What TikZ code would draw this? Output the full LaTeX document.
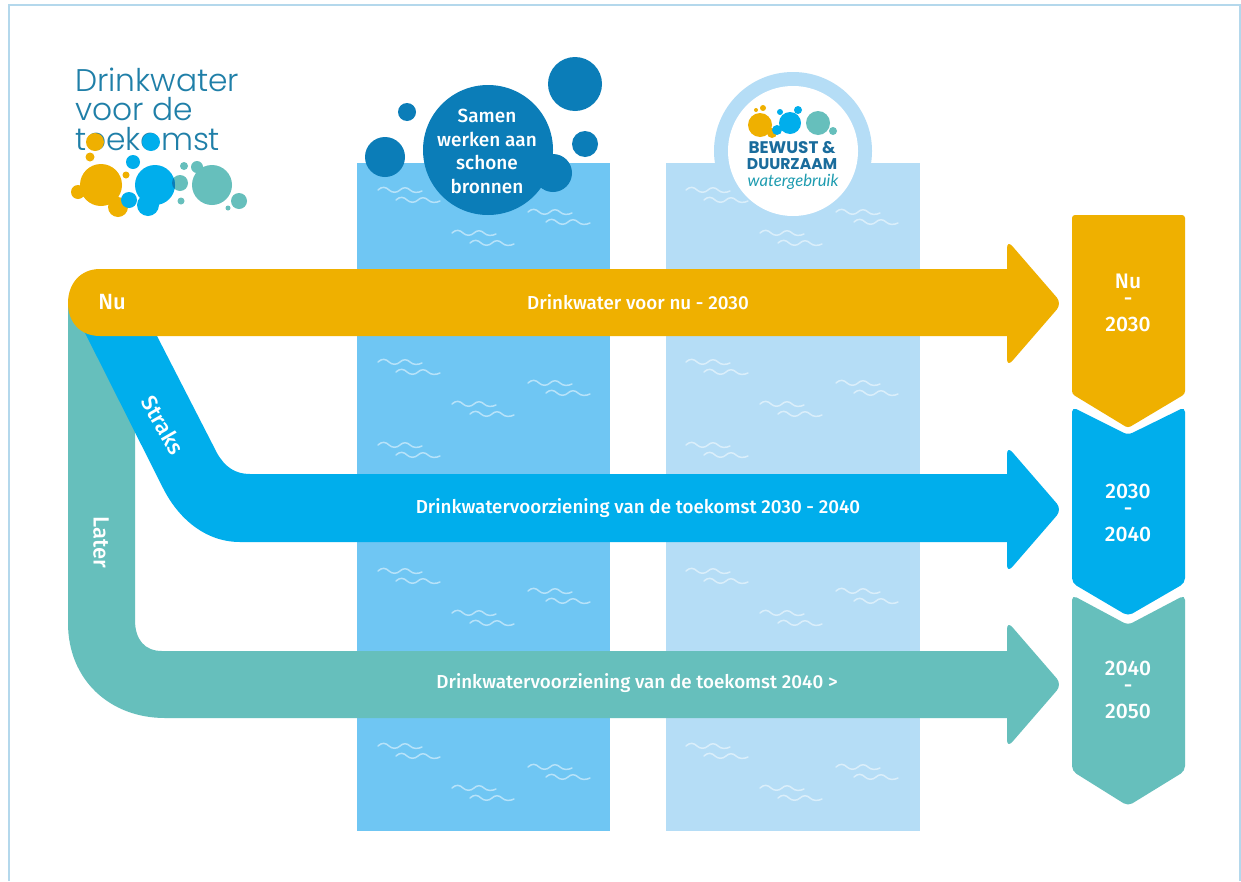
\documentclass[tikz,border=0pt]{standalone}
\usepackage{fontspec}
\setmainfont{Fira Sans}[BoldFont={Fira Sans Medium}]
\newfontfamily\logofont{Poppins Light}
\newfontfamily\heavyfont{Poppins}
\newfontfamily\cursivefont{Lato}
\definecolor{yel}{HTML}{EFB000}
\definecolor{blu}{HTML}{00AEEC}
\definecolor{tea}{HTML}{66BFBC}
\definecolor{rectA}{HTML}{6FC6F3}
\definecolor{rectB}{HTML}{B5DDF6}
\definecolor{deep}{HTML}{0B7DB8}
\definecolor{logotxt}{HTML}{1F7FA8}
\definecolor{navy}{HTML}{1A6C9C}
\definecolor{frame}{HTML}{B4D8EC}
\definecolor{curs}{HTML}{1E9CB0}
\tikzset{
  lab/.style={text=white,font=\fontsize{18.8}{22}\selectfont\bfseries,inner sep=0pt},
  biglab/.style={text=white,font=\fontsize{22}{24}\selectfont\bfseries,inner sep=0pt},
  blab/.style={text=white,font=\fontsize{21}{24}\selectfont\bfseries,inner sep=0pt},
  bub/.style={text=white,font=\fontsize{19}{22}\selectfont\bfseries,inner sep=0pt},
  logoline/.style={anchor=base west,text=logotxt,font=\logofont\fontsize{31.3}{34}\selectfont,inner sep=0pt},
  wavepair/.pic={
    \draw[white,opacity=.5,line width=1.5pt,line cap=round]
      (0,0) .. controls (4,-4) and (8,-3) .. (11,0) .. controls (14,3) and (19,3) .. (22,0)
      .. controls (25,-3) and (29,-3) .. (32,0) .. controls (35,3) and (40,3) .. (44,1);
    \draw[white,opacity=.5,line width=1.5pt,line cap=round]
      (18,10) .. controls (22,6) and (26,7) .. (29,10) .. controls (32,13) and (37,13) .. (40,10)
      .. controls (43,7) and (47,7) .. (50,10) .. controls (53,13) and (58,13) .. (62,11);
  }
}
\begin{document}
\begin{tikzpicture}[x=1pt,y=-1pt]
\path[use as bounding box,fill=white] (0,0) rectangle (1241,881);
\draw[frame,line width=2pt] (9,881) -- (9,5) -- (1240,5) -- (1240,881);
% water columns
\fill[rectB] (793,151) circle (79);
\fill[rectA] (357,163) rectangle (610,831);
\fill[rectB] (666,163) rectangle (920,831);
\fill[white] (793,151) circle (65);
% waves
\foreach \dx in {0,308}{
  \foreach \p/\q in {378/190,528/212,452/233,378/362,528/383,452/404,378/445,378/571,528/591,452/613,378/746,528/767,452/788}{
    \pic at ({\p+\dx},\q) {wavepair};
  }
}
% left bubbles
\fill[deep] (488,150) circle (65);
\fill[deep] (575,84) circle (27);
\fill[deep] (407,112) circle (9);
\fill[deep] (385,157) circle (20);
\fill[deep] (585,144) circle (13);
\fill[deep] (553,173) circle (19);
\node[bub] (s1) at (487,116) {Samen};
\node[bub] (s2) at (487,139) {werken aan};
\node[bub] (s3) at (487,162) {schone};
\node[bub] (s4) at (487,186) {bronnen};
% right badge
\fill[yel] (760,125) circle (12) (772,133) circle (5) (763,108) circle (3) (756,110) circle (2);
\fill[blu] (777,130) circle (5) (790,123) circle (11) (798,110) circle (4) (780,112) circle (3);
\fill[tea] (818,123) circle (12) (833,131) circle (4);
\node[text=navy,font=\heavyfont\fontsize{16.8}{18}\selectfont\bfseries,inner sep=0pt] (b1) at (792,148) {BEWUST \&};
\node[text=navy,font=\heavyfont\fontsize{15.6}{18}\selectfont\bfseries,inner sep=0pt] (b2) at (792,164) {DUURZAAM};
\node[text=curs,font=\cursivefont\itshape\fontsize{16.7}{18}\selectfont,inner sep=0pt] (b3) at (793,182) {watergebruik};
% teal stream
\fill[tea] (68,300) -- (135,400) -- (135,620) .. controls (135,640) and (145,651) .. (162,651)
  -- (1010,651) -- (1010,718)
  -- (165,718) .. controls (110,718) and (68,680) .. (68,623) -- cycle;
\fill[tea,rounded corners=8pt] (1007,684) -- (1007,621) -- (1062,684.5) -- (1007,748) -- cycle;
% blue stream
\fill[blu] (75,313) -- (93,320) -- (157,336) -- (217,453) .. controls (225,467) and (235,474) .. (250,474)
  -- (1010,474) -- (1010,542)
  -- (240,542) .. controls (205,542) and (178,518) .. (163,488) -- cycle;
\fill[blu,rounded corners=8pt] (1007,509) -- (1007,446) -- (1062,509.5) -- (1007,573) -- cycle;
% yellow stream
\fill[yel] (100,269) -- (1010,269) -- (1010,336)
  -- (100,336) .. controls (80,336) and (68,322) .. (68,303) .. controls (68,284) and (80,269) .. (100,269) -- cycle;
\fill[yel,rounded corners=8pt] (1007,303) -- (1007,240) -- (1062,303.5) -- (1007,367) -- cycle;
\node[biglab] (nu) at (112,302) {Nu};
\node[biglab,rotate=-60] (straks) at (163,425) {Straks};
\node[biglab,rotate=-90] (later) at (101,542) {Later};
\node[lab] (t1) at (638,302) {Drinkwater voor nu - 2030};
\node[lab] (t2) at (638,508) {Drinkwatervoorziening van de toekomst 2030 - 2040};
\node[lab] (t3) at (637,683) {Drinkwatervoorziening van de toekomst 2040 >};
% right chevrons
\fill[tea,rounded corners=5pt] (1072,595) -- (1128,625) -- (1185,595) -- (1185,771) -- (1128,806) -- (1072,771) -- cycle;
\fill[blu,rounded corners=5pt] (1072,407) -- (1128,435) -- (1185,407) -- (1185,583) -- (1128,616) -- (1072,583) -- cycle;
\fill[yel,rounded corners=3pt] (1072,215) -- (1185,215) -- (1185,394) -- (1128,428) -- (1072,394) -- cycle;
\node[blab] (c1a) at (1128,281) {Nu};
\node[blab] (c1b) at (1128,302) {-};
\node[blab] (c1c) at (1128,324) {2030};
\node[blab] (c2a) at (1128,491) {2030};
\node[blab] (c2b) at (1128,512) {-};
\node[blab] (c2c) at (1128,534) {2040};
\node[blab] (c3a) at (1128,668) {2040};
\node[blab] (c3b) at (1128,689) {-};
\node[blab] (c3c) at (1128,711) {2050};
% logo
\node[logoline] (l1) at (75,91) {Drinkwater};
\node[logoline] (l2) at (75,120) {voor de};
\node[logoline] (l3) at (75,150) {toekomst};
\fill[yel] (95,142) circle (9);
\fill[blu] (151,142) circle (9);
\fill[yel] (101,185) circle (21) (78,192) circle (7) (118,207) circle (10) (126,175) circle (3.5) (90,157) circle (4.5);
\fill[tea] (180,183) circle (8);
\fill[blu] (129,200) circle (8) (155,185) circle (20) (148,205) circle (11) (133,162) circle (7);
\begin{scope}
  \clip (155,185) circle (20);
  \fill[deep] (180,183) circle (8);
\end{scope}
\fill[tea] (212,185) circle (20) (184,166) circle (4) (197,167) circle (6) (181,201) circle (3.5) (239,201) circle (8) (228,208) circle (2.5);
\end{tikzpicture}
\end{document}
